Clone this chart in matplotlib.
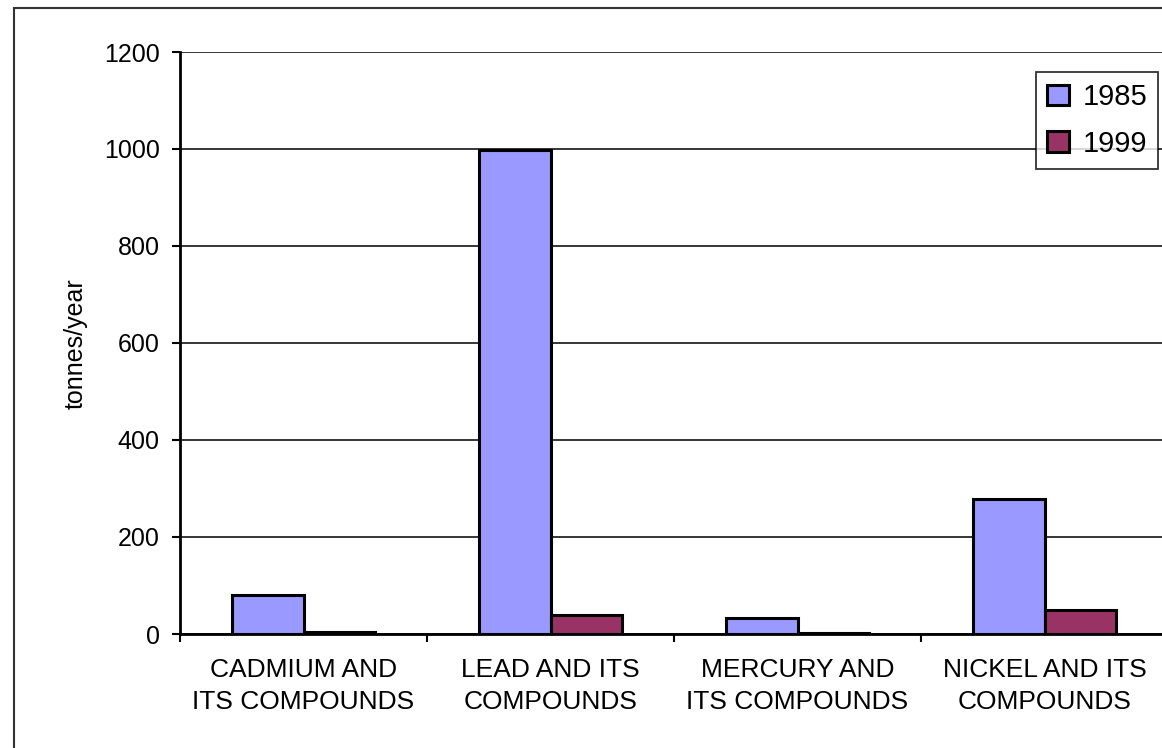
import matplotlib
matplotlib.use("Agg")
import matplotlib.pyplot as plt
import numpy as np
from matplotlib.patches import Rectangle

categories = ["CADMIUM AND\nITS COMPOUNDS", "LEAD AND ITS\nCOMPOUNDS",
              "MERCURY AND\nITS COMPOUNDS", "NICKEL AND ITS\nCOMPOUNDS"]
series_labels = ["1985", "1999"]
values_1985 = [80, 997, 32, 278]
values_1999 = [5, 40, 2, 50]
y_ticks = [0, 200, 400, 600, 800, 1000, 1200]

plt.rcParams["font.family"] = ["Liberation Sans", "DejaVu Sans"]

W, H = 1162, 748
fig = plt.figure(figsize=(W / 100, H / 100), dpi=100)

# outer chart frame (runs off the right and bottom edges)
fig.patches.append(Rectangle((14 / W, -0.1), 1.2, 1 - 8 / H + 0.1,
                             transform=fig.transFigure, fill=False,
                             edgecolor="#333333", linewidth=1.5))

left, right, top, bottom = 180, 1168, 52, 634
ax = fig.add_axes([left / W, 1 - bottom / H, (right - left) / W, (bottom - top) / H])

x = np.arange(len(categories))
bw = 0.29
c1985, c1999 = "#9999FF", "#993366"
ax.bar(x - bw / 2, values_1985, bw, color=c1985, edgecolor="black", linewidth=2.2,
       label=series_labels[0], zorder=3)
ax.bar(x + bw / 2, values_1999, bw, color=c1999, edgecolor="black", linewidth=2.2,
       label=series_labels[1], zorder=3)

ax.set_xlim(-0.5, len(categories) - 0.5)
ax.set_ylim(0, 1200)
ax.set_yticks(y_ticks)
ax.set_yticklabels([str(v) for v in y_ticks], fontsize=18)
ax.yaxis.grid(True, color="black", linewidth=1.1, zorder=0)
ax.set_axisbelow(True)

# category boundaries carry the tick marks; labels sit at group centres
ax.set_xticks(np.arange(-0.5, len(categories), 1.0))
ax.set_xticklabels([])
ax.set_xticks(x, minor=True)
ax.set_xticklabels(categories, minor=True, fontsize=19, linespacing=1.42)
ax.tick_params(axis="x", which="minor", length=0, pad=17)
ax.tick_params(axis="x", which="major", length=6, width=1.5, direction="out")
ax.tick_params(axis="y", length=6, width=1.5, direction="out", pad=8.5)

for s in ["top", "right"]:
    ax.spines[s].set_visible(False)
ax.spines["left"].set_linewidth(2)
ax.spines["bottom"].set_linewidth(2)

fig.text(76 / W, 1 - 344 / H, "tonnes/year", rotation=90, ha="center", va="center",
         fontsize=18)

leg = ax.legend(loc="upper left", bbox_to_anchor=((1036 - left) / (right - left),
                                                  1 - (72 - top) / (bottom - top)),
                fontsize=21, frameon=True, fancybox=False, borderpad=0.38,
                handlelength=0.76, handleheight=0.7, handletextpad=0.45,
                labelspacing=0.64, borderaxespad=0)
leg.get_frame().set_edgecolor("black")
leg.get_frame().set_linewidth(1.3)

fig.savefig("out.png", dpi=100)
